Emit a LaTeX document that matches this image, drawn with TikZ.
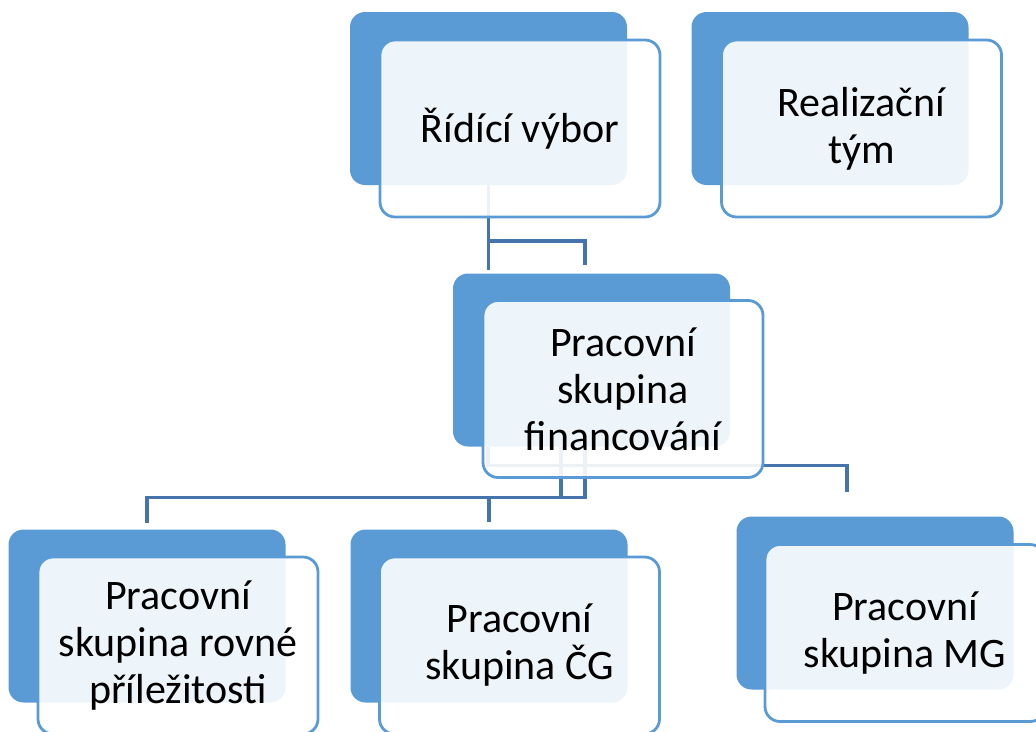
\documentclass[tikz,border=0pt]{standalone}
\usepackage{fontspec}
\setmainfont{Carlito}
\usetikzlibrary{calc}
\definecolor{accent}{HTML}{5B9BD5}
\definecolor{linkblue}{HTML}{4575AC}
\begin{document}
\begin{tikzpicture}[x=1pt,y=-1pt,
    backbox/.style={rectangle,rounded corners=15pt,fill=accent,minimum width=277pt,minimum height=173pt,inner sep=0pt,outer sep=0pt},
    frontbox/.style={rectangle,rounded corners=15pt,draw=accent,line width=2.8pt,fill=white,fill opacity=0.9,text opacity=1,
      minimum width=280pt,minimum height=177pt,inner sep=4pt,outer sep=0pt,align=center,
      font=\fontsize{42}{47}\selectfont},
    link/.style={draw=linkblue,line width=3.2pt}]
  \useasboundingbox (0,0) rectangle (1036,731);

  % back boxes
  \node[backbox] (ridiciB) at (488.5,98.5) {};
  \node[backbox] (realizB) at (830,98.5) {};
  \node[backbox] (financB) at (591.5,360) {};
  \node[backbox] (rovneB)  at (147,616) {};
  \node[backbox] (cgB)     at (489,616) {};
  \node[backbox] (mgB)     at (875,603) {};

  % connectors
  \draw[link] (ridiciB.south) -- ($(ridiciB.south |- financB.north)+(0,-4)$);
  \draw[link] ($(ridiciB.south)+(0,56)$) -| ($(financB.north)+(-6.5,-9)$);
  \draw[link] ($(financB.south)+(-30.5,0)$) -- ++(0,51) -| ($(rovneB.north)+(0,-7)$);
  \draw[link] ($(financB.south)+(-6.5,0)$) -- ++(0,51) -| ($(cgB.north)+(0,-8)$);
  \draw[link] ($(financB.south)+(-103.5,0)$) -- ++(0,19) -| ($(mgB.north)+(-28,-25)$);

  % front boxes
  \node[frontbox] (ridici) at ($(ridiciB)+(31.5,30)$) {Řídící výbor};
  \node[frontbox] (realiz) at ($(realizB)+(31.5,30)$) {Realizační\\tým};
  \node[frontbox] (financ) at ($(financB)+(31.5,29)$) {Pracovní\\skupina\\financování};
  \node[frontbox] (rovne)  at ($(rovneB)+(31,29.5)$) {Pracovní\\skupina rovné\\příležitosti};
  \node[frontbox] (cg)     at ($(cgB)+(30.5,29.5)$) {Pracovní\\skupina ČG};
  \node[frontbox] (mg)     at ($(mgB)+(30,30)$) {Pracovní\\skupina MG};
\end{tikzpicture}
\end{document}
